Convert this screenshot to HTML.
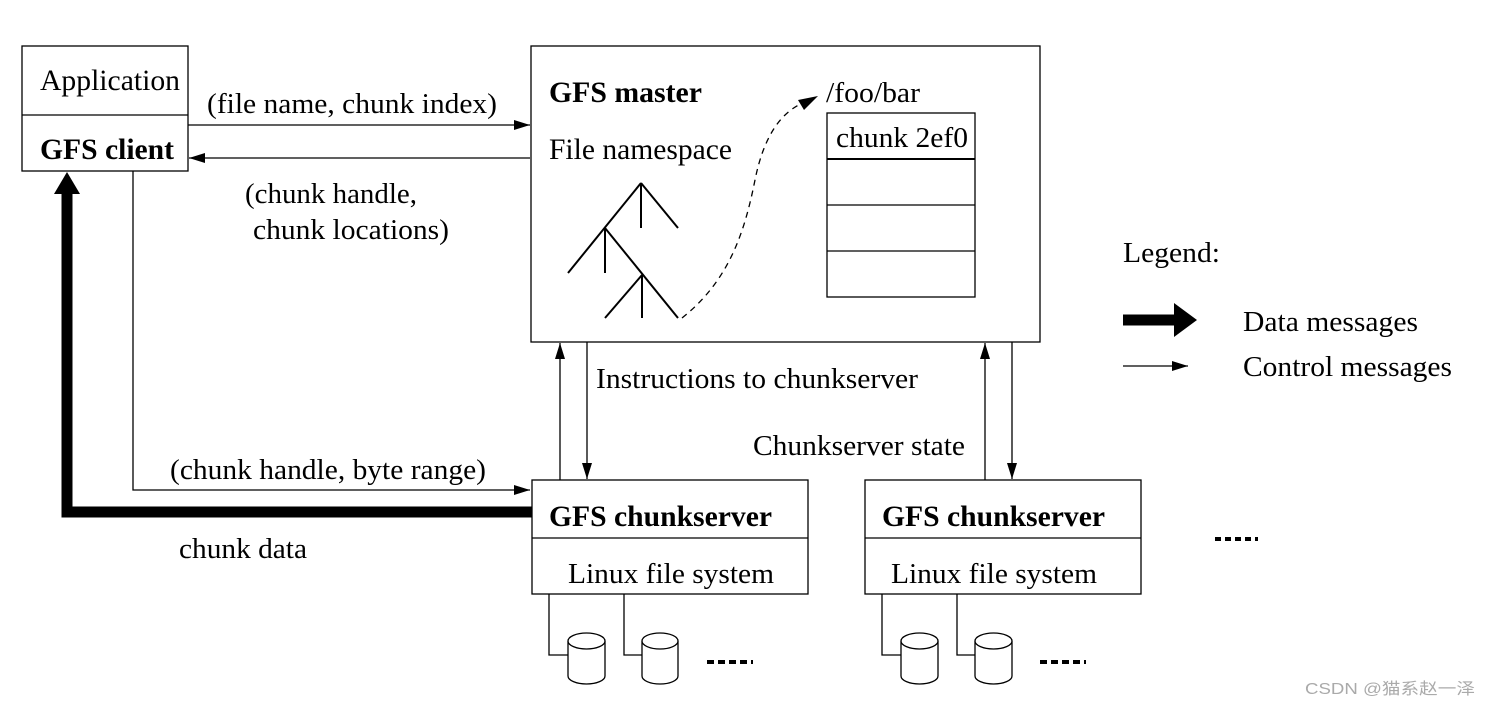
<!DOCTYPE html>
<html><head><meta charset="utf-8"><style>
html,body{margin:0;padding:0;background:#fff;}
svg text{font-family:"Liberation Serif",serif;fill:#000;}
</style></head><body>
<svg width="1491" height="705" viewBox="0 0 1491 705" xmlns="http://www.w3.org/2000/svg">
<defs>
<marker id="a" markerWidth="16" markerHeight="10" refX="16" refY="5" orient="auto" markerUnits="userSpaceOnUse"><path d="M0,0 L16,5 L0,10 z" fill="#000"/></marker>
</defs>
<g stroke="#000" stroke-width="1.3" fill="none">
<rect x="22" y="46" width="166" height="125"/>
<line x1="22" y1="115" x2="188" y2="115"/>
<rect x="531" y="46" width="509" height="296"/>
<rect x="532" y="480" width="276" height="114"/>
<line x1="532" y1="538" x2="808" y2="538"/>
<rect x="865" y="480" width="276" height="114"/>
<line x1="865" y1="538" x2="1141" y2="538"/>
<line x1="188" y1="125" x2="530" y2="125" marker-end="url(#a)"/>
<line x1="530" y1="158" x2="189" y2="158" marker-end="url(#a)"/>
<polyline points="133,171 133,490 530,490" marker-end="url(#a)"/>
<line x1="560" y1="480" x2="560" y2="343" marker-end="url(#a)"/>
<line x1="587" y1="342" x2="587" y2="479" marker-end="url(#a)"/>
<line x1="985" y1="480" x2="985" y2="343" marker-end="url(#a)"/>
<line x1="1012" y1="342" x2="1012" y2="479" marker-end="url(#a)"/>
<rect x="827" y="113" width="148" height="184"/>
<line x1="827" y1="159" x2="975" y2="159" stroke-width="2"/>
<line x1="827" y1="205" x2="975" y2="205"/>
<line x1="827" y1="251" x2="975" y2="251"/>
<g stroke-width="2">
<line x1="641" y1="183" x2="568" y2="273"/>
<line x1="641" y1="183" x2="678" y2="228"/>
<line x1="641" y1="183" x2="641" y2="228"/>
<line x1="605" y1="228" x2="605" y2="273"/>
<line x1="605" y1="228" x2="678" y2="318"/>
<line x1="642" y1="275" x2="605" y2="318"/>
<line x1="642" y1="275" x2="642" y2="318"/>
</g>
<path d="M682,318 C730,280 745,230 755,180 C765,130 785,110 805,102" stroke-dasharray="6,5"/>
<line x1="1123" y1="366" x2="1188" y2="366" marker-end="url(#a)"/>
<polyline points="549,594 549,655 568,655"/>
<polyline points="624,594 624,655 642,655"/>
<polyline points="882,594 882,655 901,655"/>
<polyline points="957,594 957,655 975,655"/>
</g>
<path d="M798,100 L818,96 L804,110 z" fill="#000"/>
<g stroke="#000" stroke-width="1.3" fill="#fff">
<path d="M568,641 L568,676 A18.5,8 0 0 0 605,676 L605,641"/><ellipse cx="586.5" cy="641" rx="18.5" ry="8"/>
<path d="M642,641 L642,676 A18,8 0 0 0 678,676 L678,641"/><ellipse cx="660" cy="641" rx="18" ry="8"/>
<path d="M901,641 L901,676 A18.5,8 0 0 0 938,676 L938,641"/><ellipse cx="919.5" cy="641" rx="18.5" ry="8"/>
<path d="M975,641 L975,676 A18.5,8 0 0 0 1012,676 L1012,641"/><ellipse cx="993.5" cy="641" rx="18.5" ry="8"/>
</g>
<g fill="#000">
<rect x="707" y="660" width="7" height="4"/><rect x="718" y="660" width="7" height="4"/><rect x="729" y="660" width="7" height="4"/><rect x="740" y="660" width="7" height="4"/><rect x="751" y="660" width="2" height="4"/>
<rect x="1040" y="660" width="7" height="4"/><rect x="1051" y="660" width="7" height="4"/><rect x="1062" y="660" width="7" height="4"/><rect x="1073" y="660" width="7" height="4"/><rect x="1084" y="660" width="2" height="4"/>
<rect x="1215" y="537" width="6" height="4"/><rect x="1225" y="537" width="6" height="4"/><rect x="1235" y="537" width="6" height="4"/><rect x="1245" y="537" width="6" height="4"/><rect x="1255" y="537" width="3" height="4"/>
</g>
<polyline points="532,512 67,512 67,192" stroke="#000" stroke-width="11" fill="none"/>
<path d="M54,194 L67,172 L80,194 z" fill="#000"/>
<line x1="1123" y1="320" x2="1176" y2="320" stroke="#000" stroke-width="11"/>
<path d="M1174,303 L1197,320 L1174,337 z" fill="#000"/>
<text x="40" y="90" font-size="30" textLength="140" lengthAdjust="spacingAndGlyphs">Application</text>
<text x="40" y="159" font-size="30" font-weight="bold" textLength="134" lengthAdjust="spacingAndGlyphs">GFS client</text>
<text x="207" y="113" font-size="28" textLength="290" lengthAdjust="spacingAndGlyphs">(file name, chunk index)</text>
<text x="245" y="203" font-size="28" textLength="172" lengthAdjust="spacingAndGlyphs">(chunk handle,</text>
<text x="253" y="239" font-size="28" textLength="196" lengthAdjust="spacingAndGlyphs">chunk locations)</text>
<text x="549" y="102" font-size="30" font-weight="bold" textLength="153" lengthAdjust="spacingAndGlyphs">GFS master</text>
<text x="549" y="159" font-size="30" textLength="183" lengthAdjust="spacingAndGlyphs">File namespace</text>
<text x="826" y="102" font-size="28" textLength="94" lengthAdjust="spacingAndGlyphs">/foo/bar</text>
<text x="836" y="147" font-size="28" textLength="132" lengthAdjust="spacingAndGlyphs">chunk 2ef0</text>
<text x="1123" y="262" font-size="28" textLength="97" lengthAdjust="spacingAndGlyphs">Legend:</text>
<text x="1243" y="331" font-size="28" textLength="175" lengthAdjust="spacingAndGlyphs">Data messages</text>
<text x="1243" y="376" font-size="28" textLength="209" lengthAdjust="spacingAndGlyphs">Control messages</text>
<text x="596" y="388" font-size="28" textLength="322" lengthAdjust="spacingAndGlyphs">Instructions to chunkserver</text>
<text x="753" y="455" font-size="28" textLength="212" lengthAdjust="spacingAndGlyphs">Chunkserver state</text>
<text x="170" y="479" font-size="28" textLength="316" lengthAdjust="spacingAndGlyphs">(chunk handle, byte range)</text>
<text x="179" y="558" font-size="28" textLength="128" lengthAdjust="spacingAndGlyphs">chunk data</text>
<text x="549" y="526" font-size="30" font-weight="bold" textLength="223" lengthAdjust="spacingAndGlyphs">GFS chunkserver</text>
<text x="568" y="583" font-size="28" textLength="206" lengthAdjust="spacingAndGlyphs">Linux file system</text>
<text x="882" y="526" font-size="30" font-weight="bold" textLength="223" lengthAdjust="spacingAndGlyphs">GFS chunkserver</text>
<text x="891" y="583" font-size="28" textLength="206" lengthAdjust="spacingAndGlyphs">Linux file system</text>
<text x="1305" y="694" font-size="16" style="font-family:'Liberation Sans','Noto Sans CJK SC',sans-serif;fill:#aaa" textLength="170" lengthAdjust="spacingAndGlyphs">CSDN @猫系赵一泽</text>
</svg>
</body></html>
